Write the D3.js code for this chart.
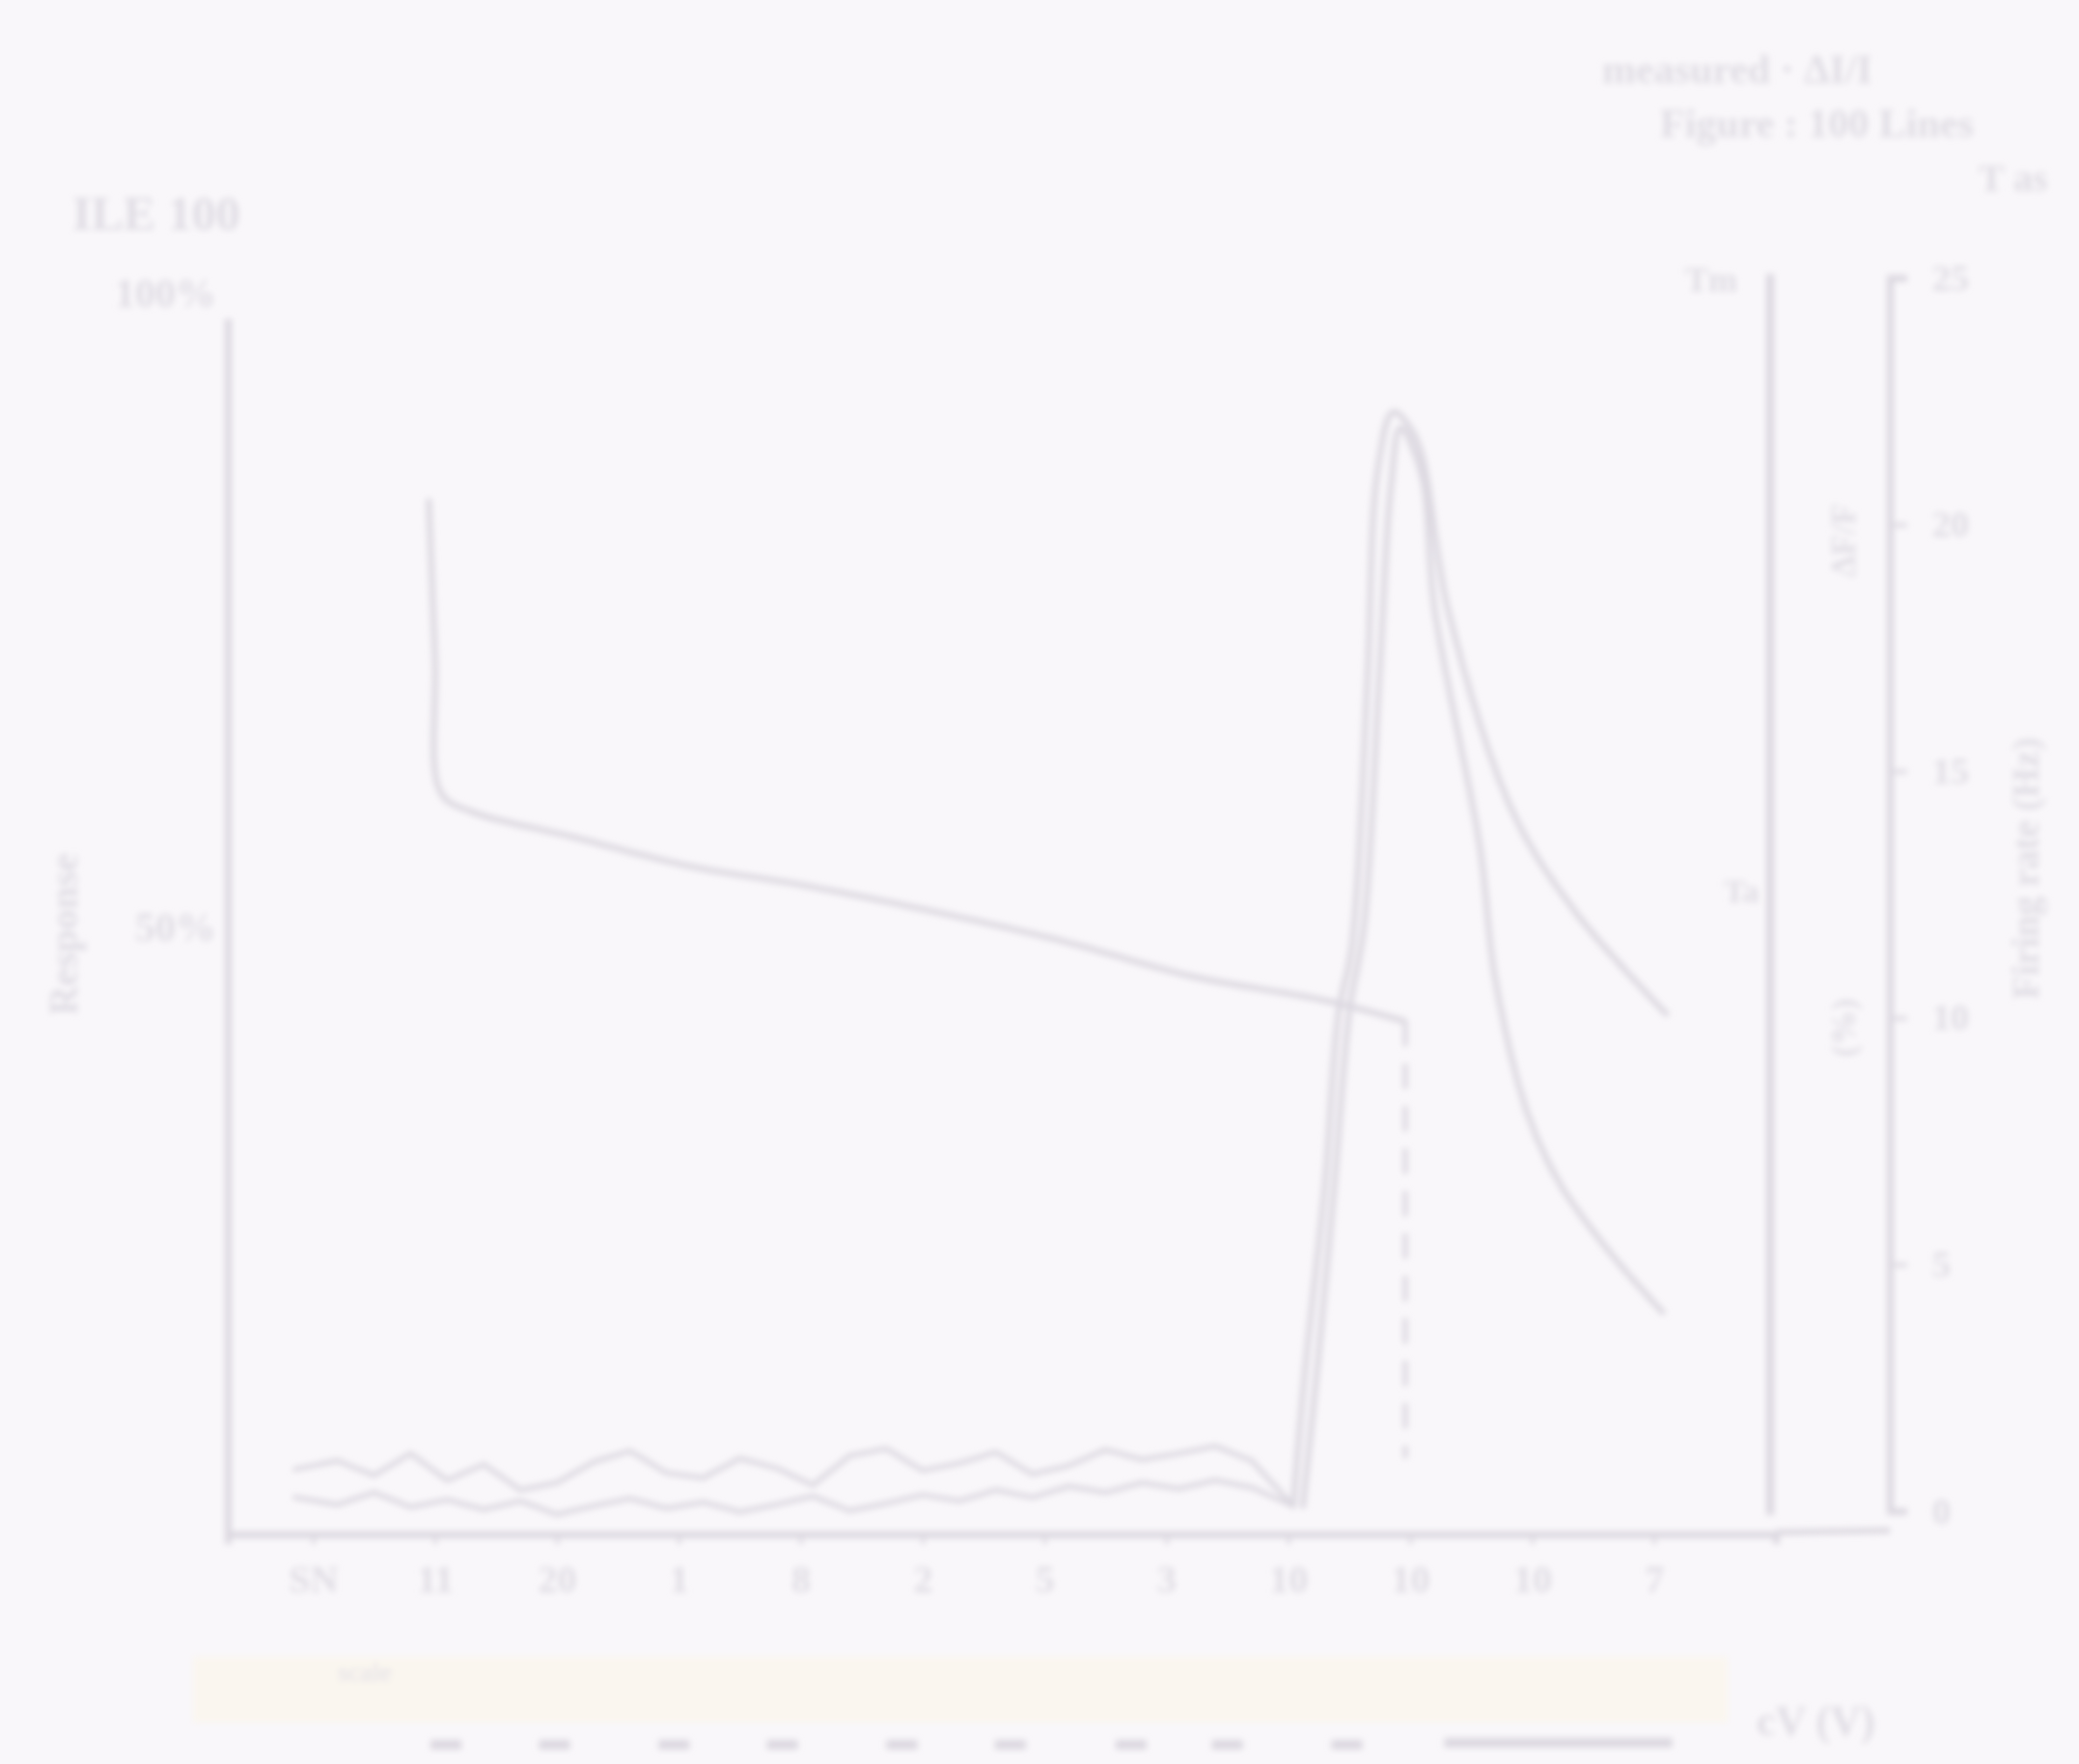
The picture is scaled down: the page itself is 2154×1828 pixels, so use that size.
<!DOCTYPE html>
<html>
<head>
<meta charset="utf-8">
<script src="https://cdn.jsdelivr.net/npm/d3@7"></script>
<style>
  html, body { margin: 0; padding: 0; background: #f9f7fa; }
  svg { display: block; }
</style>
</head>
<body>
<script>
// ---- data -------------------------------------------------------------
const tickLabels = ["SN", "11", "20", "1", "8", "2", "5", "3", "10", "10", "10", "7"];
const tickIndex  = [0, 1, 2, 3, 4, 5, 6, 7, 8, 9, 10, 11];

// early response: fast onset then slow decay (x in tick units, y in %)
const earlyX = [0.95, 1.0, 1.05, 1.3, 2.1, 3.1, 4.0, 5.0, 6.1, 7.2, 8.3, 8.95];
const earlyY = [85, 72, 61, 59.5, 57.5, 55, 53.5, 51.5, 49, 46, 44, 42.3];

// late peak, trace A
const traceAX = [8.04, 8.14, 8.30, 8.41, 8.52, 8.65, 8.73, 8.86, 9.05, 9.31, 9.84, 10.36, 11.1];
const traceAY = [2.5, 13.9, 28.9, 42.9, 48.4, 70.6, 87.3, 92.3, 90.1, 76.1, 59.5, 51.2, 42.9];

// late peak, trace B
const traceBX = [8.12, 8.24, 8.38, 8.5, 8.62, 8.75, 8.84, 8.92, 9.09, 9.2, 9.57, 9.7, 9.97, 10.23, 10.63, 11.07];
const traceBY = [2.5, 14, 29, 43, 50, 71, 86, 91, 87.3, 76.1, 56.7, 45.6, 34.5, 28.9, 23.4, 18.4];

// resting baseline before the late peak
const baseX = [-0.15, 0.2, 0.5, 0.8, 1.1, 1.4, 1.7, 2.0, 2.3, 2.6, 2.9, 3.2, 3.5, 3.8, 4.1, 4.4, 4.7, 5.0, 5.3, 5.6, 5.9, 6.2, 6.5, 6.8, 7.1, 7.4, 7.7, 8.04];
const base1Y = [5.5, 6.2, 5.0, 6.8, 4.6, 5.9, 3.8, 4.4, 6.1, 7.0, 5.2, 4.8, 6.4, 5.6, 4.2, 6.6, 7.2, 5.4, 6.0, 6.9, 5.1, 5.8, 7.1, 6.3, 6.8, 7.4, 6.2, 2.5];
const base2Y = [3.2, 2.6, 3.6, 2.4, 3.0, 2.2, 2.9, 1.8, 2.5, 3.1, 2.3, 2.8, 2.0, 2.6, 3.3, 2.1, 2.7, 3.4, 2.9, 3.8, 3.2, 4.1, 3.6, 4.4, 3.9, 4.6, 4.0, 2.5];

// stimulus marker
const markerX = [8.96];
const markerY = [42.3, 6.4];

// scale marks under the axis
const scaleMarks = [1.09, 1.98, 2.96, 3.85, 4.83, 5.72, 6.71, 7.5, 8.48];
const scaleBar = [9.28, 11.15];

const leftTicks  = [50, 100];
const rightTicks = [0, 5, 10, 15, 20, 25];

// ---- layout -----------------------------------------------------------
const W = 2154, H = 1828;
const ink = "#dcd8e0";
const textInk = "#e0dde4";
const font = "'Liberation Serif', serif";

const svg = d3.select("body").append("svg").attr("width", W).attr("height", H);
const defs = svg.append("defs");
defs.append("filter").attr("id", "soft")
  .attr("x", "-5%").attr("y", "-5%").attr("width", "110%").attr("height", "110%")
  .append("feGaussianBlur").attr("stdDeviation", 3.4);

svg.append("rect").attr("width", W).attr("height", H).attr("fill", "#f9f7fa");

const g = svg.append("g").attr("filter", "url(#soft)");

// faint band behind the scale marks
g.append("rect").attr("x", 200).attr("y", 1717).attr("width", 1590).attr("height", 68)
  .attr("fill", "#faf6ef");

const x = d3.scaleLinear().domain([-0.7, 12.0]).range([236, 1840]);
const y = d3.scaleLinear().domain([0, 100]).range([1592, 330]);
const yR = d3.scaleLinear().domain([0, 25]).range([1566, 288]);

// left axis
const leftAxis = g.append("g").attr("transform", "translate(236,0)")
  .call(d3.axisLeft(y).tickValues(leftTicks).tickFormat(d => d + "%").tickSize(0).tickPadding(12));
leftAxis.select(".domain").attr("stroke", ink).attr("stroke-width", 7);
leftAxis.selectAll("text").attr("fill", textInk).attr("font-size", 42).attr("font-family", font).attr("font-weight", "bold");
leftAxis.selectAll(".tick").filter(d => d === 100).select("text").attr("dy", "-0.3em");

// bottom axis
const bottomAxis = g.append("g").attr("transform", "translate(0,1590)")
  .call(d3.axisBottom(x).tickValues(tickIndex).tickFormat((d, i) => tickLabels[i]).tickSize(10).tickPadding(22));
bottomAxis.select(".domain").attr("stroke", ink).attr("stroke-width", 7);
bottomAxis.selectAll("line").attr("stroke", ink).attr("stroke-width", 4);
bottomAxis.selectAll("text").attr("fill", textInk).attr("font-size", 40).attr("font-family", font).attr("font-weight", "bold");
g.append("line").attr("x1", 1840).attr("x2", 1958).attr("y1", 1588).attr("y2", 1586)
  .attr("stroke", ink).attr("stroke-width", 6);

// inner right frame line
g.append("line").attr("x1", 1834).attr("x2", 1834).attr("y1", 284).attr("y2", 1570)
  .attr("stroke", ink).attr("stroke-width", 8);

// outer right axis
const rightAxis = g.append("g").attr("transform", "translate(1958,0)")
  .call(d3.axisRight(yR).tickValues(rightTicks).tickSize(18).tickPadding(26));
rightAxis.select(".domain").attr("stroke", ink).attr("stroke-width", 7);
rightAxis.selectAll("line").attr("stroke", ink).attr("stroke-width", 4);
rightAxis.selectAll("text").attr("fill", textInk).attr("font-size", 38).attr("font-family", font).attr("font-weight", "bold");

// series
const smooth = d3.line().x(d => x(d[0])).y(d => y(d[1])).curve(d3.curveCatmullRom.alpha(0.5));
const jagged = d3.line().x(d => x(d[0])).y(d => y(d[1])).curve(d3.curveLinear);
const zip = (xs, ys) => xs.map((v, i) => [v, ys[i]]);

function draw(pts, gen, w, dash) {
  g.append("path").datum(pts).attr("d", gen)
    .attr("fill", "none").attr("stroke", ink).attr("stroke-width", w)
    .attr("stroke-linejoin", "round").attr("stroke-linecap", "round")
    .attr("stroke-dasharray", dash || null);
}
draw(zip(baseX, base1Y), jagged, 5);
draw(zip(baseX, base2Y), jagged, 5);
draw(zip(earlyX, earlyY), smooth, 6);
draw(zip(traceAX, traceAY), smooth, 6);
draw(zip(traceBX, traceBY), smooth, 6);

g.append("line")
  .attr("x1", x(markerX[0])).attr("x2", x(markerX[0]))
  .attr("y1", y(markerY[0])).attr("y2", y(markerY[1]))
  .attr("stroke", ink).attr("stroke-width", 5).attr("stroke-dasharray", "26 18");

// scale marks
g.selectAll(".mark").data(scaleMarks).join("line")
  .attr("x1", d => x(d) - 16).attr("x2", d => x(d) + 16)
  .attr("y1", 1808).attr("y2", 1808)
  .attr("stroke", ink).attr("stroke-width", 10);
g.append("line").attr("x1", x(scaleBar[0])).attr("x2", x(scaleBar[1]))
  .attr("y1", 1806).attr("y2", 1806).attr("stroke", ink).attr("stroke-width", 10);

// text
function txt(s, tx, ty, size, anchor, rot, weight) {
  const t = g.append("text").text(s)
    .attr("font-family", font).attr("font-size", size)
    .attr("fill", textInk).attr("text-anchor", anchor || "start")
    .attr("font-weight", weight || "bold");
  if (rot) t.attr("transform", `translate(${tx},${ty}) rotate(${rot})`);
  else t.attr("x", tx).attr("y", ty);
}
txt("ILE 100", 75, 238, 50);
txt("measured · ΔI/I", 1660, 86, 42);
txt("Figure : 100 Lines", 1720, 142, 42);
txt("T as", 2050, 198, 40);
txt("Tm", 1800, 302, 36, "end");
txt("Ta", 1786, 935, 34);
txt("Response", 80, 968, 42, "middle", -90);
txt("ΔF/F", 1922, 560, 36, "middle", -90);
txt("(%)", 1922, 1065, 36, "middle", -90);
txt("Firing rate (Hz)", 2112, 900, 40, "middle", -90);
txt("scale", 350, 1742, 28, "start", 0, "normal");
txt("cV   (V)", 1820, 1798, 44);
</script>
</body>
</html>
